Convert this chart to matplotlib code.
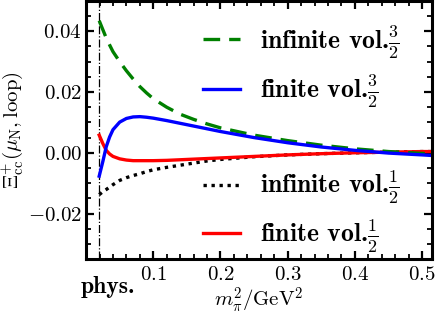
import matplotlib
matplotlib.use("Agg")
import matplotlib.pyplot as plt
import matplotlib.ticker as ticker

plt.rcParams["font.family"] = "serif"
plt.rcParams["font.serif"] = ["cmr10"]
plt.rcParams["mathtext.fontset"] = "cm"
plt.rcParams["axes.formatter.use_mathtext"] = True

PHYS = 0.0195

mpi2 = [0.0195, 0.025, 0.03, 0.035, 0.04, 0.05, 0.06, 0.07, 0.08, 0.09, 0.1,
        0.12, 0.14, 0.16, 0.18, 0.2, 0.25, 0.3, 0.35, 0.4, 0.45, 0.5, 0.515]

inf_32 = [0.0435, 0.0405, 0.0378, 0.0355, 0.0333, 0.0300, 0.0270, 0.0243, 0.0218,
          0.0197, 0.0178, 0.0150, 0.0127, 0.0110, 0.0095, 0.0082, 0.0058, 0.0040,
          0.0025, 0.0013, 0.0004, -0.0002, -0.0004]
fin_32 = [-0.0077, -0.0028, 0.0020, 0.0052, 0.0076, 0.0101, 0.0113, 0.0118, 0.0119,
          0.0117, 0.0114, 0.0106, 0.0097, 0.0088, 0.0079, 0.0070, 0.0050, 0.0033,
          0.0019, 0.0008, -0.0001, -0.0007, -0.0009]
inf_12 = [-0.0138, -0.0128, -0.0121, -0.0113, -0.0105, -0.0091, -0.0082, -0.0075,
          -0.0069, -0.0062, -0.0056, -0.0048, -0.0041, -0.0034, -0.0027, -0.0022,
          -0.0013, -0.0007, -0.0003, 0.0, 0.0002, 0.0004, 0.0004]
fin_12 = [0.0058, 0.0030, 0.0008, -0.0004, -0.0012, -0.0020, -0.0024, -0.0026,
          -0.0026, -0.0026, -0.0026, -0.0025, -0.0023, -0.0021, -0.0019, -0.0017,
          -0.0012, -0.0007, -0.0003, 0.0, 0.0002, 0.0004, 0.0004]

fig = plt.figure(figsize=(4.37, 3.14), dpi=100)
ax = fig.add_axes([0.197, 0.175, 0.792, 0.822])

lw = 2.4
ax.axvline(PHYS, color="black", lw=0.9, linestyle="-.", zorder=1)
l_inf12, = ax.plot(mpi2, inf_12, color="black", lw=lw, linestyle=(0, (1, 1.4)))
l_fin12, = ax.plot(mpi2, fin_12, color="red", lw=lw)
l_inf32, = ax.plot(mpi2, inf_32, color="green", lw=lw, linestyle=(0, (5, 2.7)))
l_fin32, = ax.plot(mpi2, fin_32, color="blue", lw=lw)

ax.set_xlim(0, 0.515)
ax.set_ylim(-0.035, 0.05)

ax.xaxis.set_major_locator(ticker.FixedLocator([0.1, 0.2, 0.3, 0.4, 0.5]))
ax.xaxis.set_minor_locator(ticker.MultipleLocator(0.02))
ax.yaxis.set_major_locator(ticker.MultipleLocator(0.02))
ax.yaxis.set_minor_locator(ticker.MultipleLocator(0.005))
ax.xaxis.set_major_formatter(ticker.FuncFormatter(lambda v, _: f"${v:.1f}$"))
ax.yaxis.set_major_formatter(ticker.FuncFormatter(lambda v, _: f"${v:.2f}$"))

ax.tick_params(which="both", direction="in", top=True, right=True, labelsize=15)
ax.tick_params(which="major", length=6, width=1.6)
ax.tick_params(which="minor", length=3.5, width=1.3)
ax.tick_params(axis="x", pad=5)
ax.tick_params(axis="y", pad=3)
for s in ax.spines.values():
    s.set_linewidth(2.2)

ax.set_xlabel(r"$m_\pi^2/\mathrm{GeV}^2$", fontsize=15, labelpad=1)
ax.set_ylabel(r"$\Xi_{\mathrm{cc}}^{+}(\mu_\mathrm{N},\mathrm{loop})$", fontsize=15, labelpad=2)

ax.annotate("phys.", xy=(PHYS, 0), xycoords=("data", "axes fraction"),
            xytext=(6.5, -12.5), textcoords="offset points", ha="center", va="top",
            fontsize=17, family="cmb10")

prop = {"family": "cmb10", "size": 18.5}
leg_kw = dict(loc="upper left", frameon=False, prop=prop, borderpad=0,
              borderaxespad=0, handlelength=1.45, handletextpad=0.75,
              labelspacing=0.45)
leg1 = ax.legend([l_inf32, l_fin32],
                 [r"infinite vol.$\frac{\mathbf{3}}{\mathbf{2}}$",
                  r"finite vol.$\frac{\mathbf{3}}{\mathbf{2}}$"],
                 bbox_to_anchor=(0.338, 0.915), **leg_kw)
ax.add_artist(leg1)
ax.legend([l_inf12, l_fin12],
          [r"infinite vol.$\frac{\mathbf{1}}{\mathbf{2}}$",
           r"finite vol.$\frac{\mathbf{1}}{\mathbf{2}}$"],
          bbox_to_anchor=(0.338, 0.35), **leg_kw)

fig.savefig("out.png", dpi=100)
